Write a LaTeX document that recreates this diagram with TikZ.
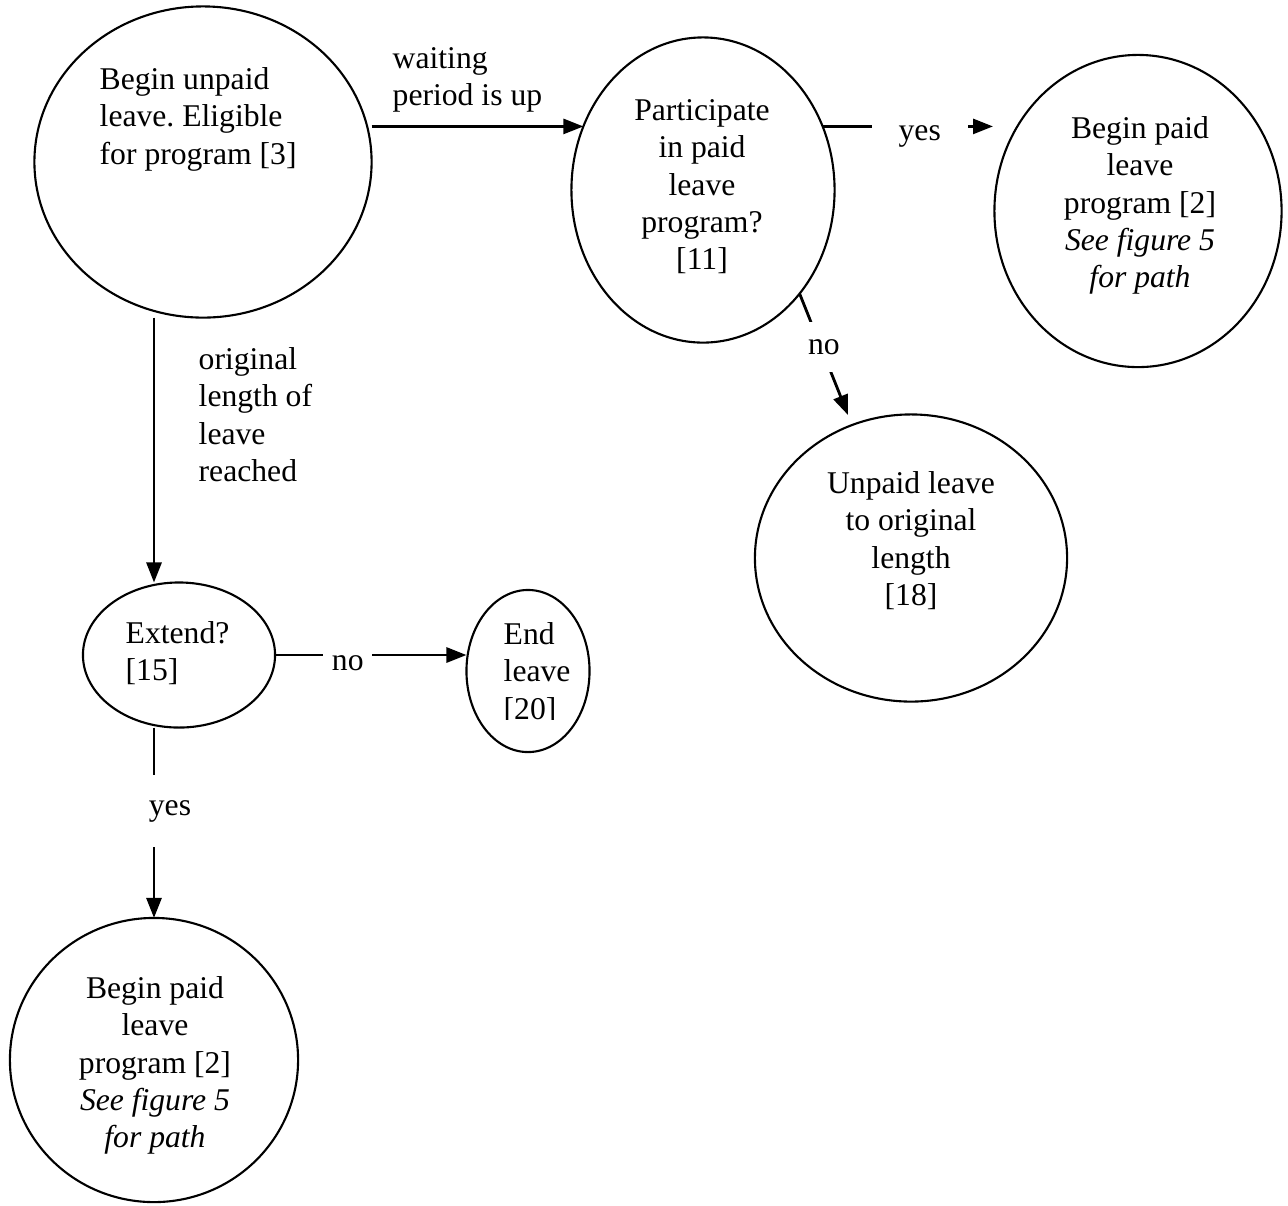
\documentclass[tikz,border=0pt]{standalone}
\usepackage{fontspec}
\setmainfont{Liberation Serif}
\usetikzlibrary{shapes.geometric,arrows.meta}
\frenchspacing
\begin{document}
\begin{tikzpicture}[x=0.01cm,y=-0.01cm,
    state/.style={draw,ellipse,semithick,inner sep=0pt,outer sep=0pt},
    txt/.style={inner sep=0pt,font=\fontsize{9}{10.6}\selectfont},
    gap/.style={txt,fill=white},
    arr/.style={thick,-{Triangle[length=0.2cm,width=0.15cm]}}]
    \useasboundingbox (0,0) rectangle (1288,1205);
    \node[state,minimum width=3.37cm,minimum height=3.11cm] (begin) at (203,162) {};
    \node[state,minimum width=2.63cm,minimum height=3.05cm] (part) at (703,190) {};
    \node[state,minimum width=2.87cm,minimum height=3.12cm] (paid1) at (1138,211) {};
    \node[state,minimum width=3.12cm,minimum height=2.87cm] (unpaid) at (911,558) {};
    \node[state,minimum width=1.92cm,minimum height=1.45cm] (extend) at (179,655) {};
    \node[state,minimum width=1.23cm,minimum height=1.62cm] (endl) at (528,671) {};
    \node[state,minimum width=2.88cm,minimum height=2.84cm] (paid2) at (154,1060) {};
    \node[txt,anchor=north west,align=left] (begintxt) at (99,67) {Begin unpaid\\leave. Eligible\\for program [3]};
    \node[txt,anchor=north,align=center] (parttxt) at (702,99) {Participate\\in paid\\leave\\program?\\{[11]}};
    \node[txt,anchor=north,align=center] (paid1txt) at (1140,116) {Begin paid\\leave\\program [2]\\\textit{See figure 5}\\\textit{for path}};
    \node[txt,anchor=north,align=center] (unpaidtxt) at (911,471) {Unpaid leave\\to original\\length\\{[18]}};
    \node[txt,anchor=north west,align=left] (extendtxt) at (125,621) {Extend?\\{[15]}};
    \begin{scope}
    \clip (440,560) rectangle (600,719);
    \node[txt,anchor=north west,align=left] (endtxt) at (503,622) {End\\leave\\{[20]}};
    \end{scope}
    \node[txt,anchor=north,align=center] (paid2txt) at (155,976) {Begin paid\\leave\\program [2]\\\textit{See figure 5}\\\textit{for path}};
    \node[txt,anchor=north west,align=left] (waittxt) at (392,47) {waiting\\period is up};
    \node[txt,anchor=north west,align=left] (origtxt) at (198,347) {original\\length of\\leave\\reached};
    \coordinate (yestip) at (993,127);
    \coordinate (notip) at (848,415);
    \draw[arr] (begin.east |- part.152) -- (part.152);
    \draw[arr] (part.28) -- (part.28 -| yestip) node[gap,pos=0.57,minimum width=0.96cm,minimum height=0.4cm,yshift=-0.1cm] (yes1) {yes};
    \draw[arr] (part.-47) -- (notip) node[gap,pos=0.4,minimum width=0.36cm,minimum height=0.5cm,xshift=0.05cm,yshift=-0.05cm] (no1) {no};
    \draw[arr] (extend.east) -- (extend.east -| endl.west) node[gap,pos=0.38,minimum width=0.49cm,minimum height=0.3cm,yshift=-0.08cm] (no2) {no};
    \draw[arr] (begin.south -| paid2.north) -- (paid2.north |- extend.north);
    \draw[arr] (paid2.north |- extend.south) -- (paid2.north) node[gap,pos=0.44,minimum width=0.5cm,minimum height=0.72cm,xshift=0.16cm] (yes2) {yes};
\end{tikzpicture}
\end{document}
